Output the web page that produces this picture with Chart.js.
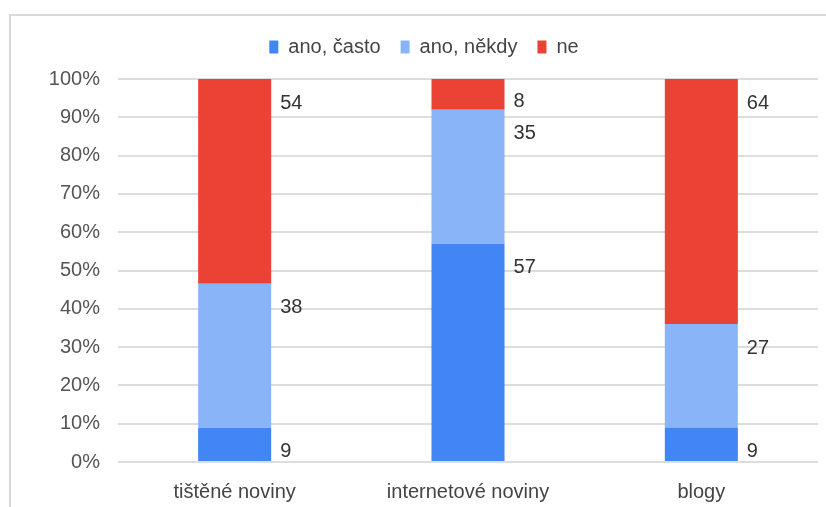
<!DOCTYPE html>
<html>
<head>
<meta charset="utf-8">
<script src="https://cdn.jsdelivr.net/npm/chart.js@4.4.1/dist/chart.umd.min.js"></script>
<style>
    html, body { margin: 0; padding: 0; background: #fff; }
    #wrap { position: relative; width: 826px; height: 507px; overflow: hidden; }
    #frame {
        position: absolute; left: 9px; top: 14px; width: 900px; height: 600px;
        border: 2px solid #d9d9d9; box-sizing: border-box;
    }
    #chart-box { position: absolute; left: 0; top: 0; width: 826px; height: 507px; }
</style>
</head>
<body>
<div id="wrap">
    <div id="frame"></div>
    <div id="chart-box"><canvas id="usage-chart"></canvas></div>
</div>
<script>
// Data
const categories = ['tištěné noviny', 'internetové noviny', 'blogy'];
const seriesNames = ['ano, často', 'ano, někdy', 'ne'];
const oftenValues = [9, 57, 9];
const sometimesValues = [38, 35, 27];
const noValues = [54, 8, 64];
const yTicks = [0, 10, 20, 30, 40, 50, 60, 70, 80, 90, 100];

const seriesColors = ['#4285F4', '#8AB4F8', '#EA4335'];
const rawSeries = [oftenValues, sometimesValues, noValues];

// Convert counts to percentage of each category's total (100% stacked)
const totals = categories.map((c, i) => rawSeries.reduce((s, arr) => s + arr[i], 0));
const percentSeries = rawSeries.map(arr => arr.map((v, i) => v / totals[i] * 100));

const fontFamily = "'Liberation Sans', Arial, sans-serif";

// Draw value labels to the right of each bar segment
const segmentLabels = {
    id: 'segmentLabels',
    afterDatasetsDraw(chart) {
        const ctx = chart.ctx;
        ctx.save();
        ctx.font = '20px ' + fontFamily;
        ctx.fillStyle = '#333333';
        ctx.textBaseline = 'middle';
        ctx.textAlign = 'left';
        chart.data.datasets.forEach((ds, di) => {
            const meta = chart.getDatasetMeta(di);
            meta.data.forEach((bar, i) => {
                const x = bar.x + bar.width / 2 + 9;
                const y = Math.min(bar.y + 24, bar.base - 8);
                ctx.fillText(String(rawSeries[di][i]), x, y);
            });
        });
        ctx.restore();
    }
};

// Extra gap under the legend, and nudge it right like the original
const legendSpacing = {
    id: 'legendSpacing',
    afterInit(chart) {
        const legend = chart.legend;
        const origFit = legend.fit;
        legend.fit = function() {
            origFit.call(this);
            this.height += 12;
        };
    },
    afterLayout(chart) {
        chart.legend.left += 15;
        chart.legend.right += 15;
    }
};

document.addEventListener('DOMContentLoaded', function() {
    const ctx = document.getElementById('usage-chart');
    new Chart(ctx, {
        type: 'bar',
        data: {
            labels: categories,
            datasets: seriesNames.map((name, k) => ({
                label: name,
                data: percentSeries[k],
                backgroundColor: seriesColors[k],
                borderWidth: 0,
                barPercentage: 0.313,
                categoryPercentage: 1
            }))
        },
        options: {
            responsive: true,
            maintainAspectRatio: false,
            animation: false,
            layout: { padding: { left: 0, right: 8, top: 17, bottom: 0 } },
            plugins: {
                tooltip: { enabled: false },
                legend: {
                    position: 'top',
                    labels: {
                        boxWidth: 9,
                        boxHeight: 13,
                        padding: 20,
                        color: '#444444',
                        font: { family: fontFamily, size: 20 }
                    }
                }
            },
            scales: {
                x: {
                    stacked: true,
                    grid: { display: false },
                    border: { display: false },
                    ticks: {
                        color: '#444444',
                        padding: 10,
                        font: { family: fontFamily, size: 20 }
                    },
                    afterFit(scale) { scale.height = 45; }
                },
                y: {
                    stacked: true,
                    min: 0,
                    max: 100,
                    afterBuildTicks(scale) {
                        scale.ticks = yTicks.map(v => ({ value: v }));
                    },
                    grid: { color: '#dddddd', lineWidth: 2, drawTicks: false },
                    border: { display: false },
                    ticks: {
                        color: '#555555',
                        padding: 18,
                        font: { family: fontFamily, size: 20 },
                        callback: v => v + '%'
                    },
                    afterFit(scale) { scale.width = 118; }
                }
            }
        },
        plugins: [segmentLabels, legendSpacing]
    });
});
</script>
</body>
</html>
